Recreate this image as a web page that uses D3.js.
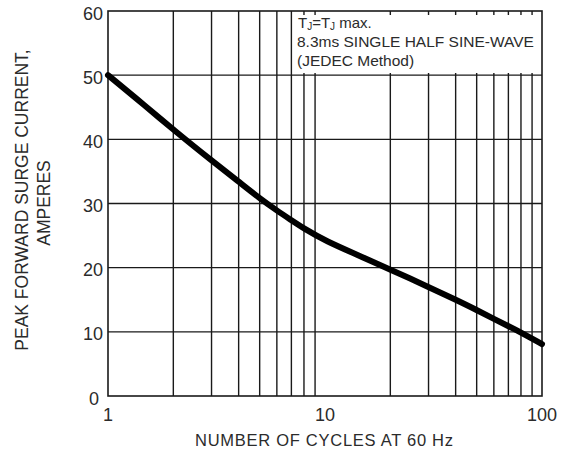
<!DOCTYPE html>
<html>
<head>
<meta charset="utf-8">
<script src="https://cdn.jsdelivr.net/npm/d3@7"></script>
<style>
  body { margin: 0; background: #fff; }
  svg text { font-family: "Liberation Sans", Arial, Helvetica, sans-serif; fill: #2b2b2b; }
</style>
</head>
<body>
<div id="chart"></div>
<script>
// curve
var cycles  = [1, 1.5, 2, 3, 4, 5, 6, 7, 8, 10, 15, 20, 30, 40, 50, 60, 70, 80, 100];
var current = [50, 45.1, 41.5, 36.7, 33.4, 30.8, 28.9, 27.4, 26.1, 24.2, 21.6, 19.7, 17.0, 15.0, 13.4, 12.0, 10.9, 9.9, 8.1];

var xGrid = [2, 3, 4, 5, 6, 7, 8, 9, 20, 30, 40, 50, 60, 70, 80, 90];
var yGrid = [10, 20, 30, 40, 50];
var xTicks = [1, 10, 100];
var yTicks = [0, 10, 20, 30, 40, 50, 60];

var legendLines = ["8.3ms SINGLE HALF SINE-WAVE", "(JEDEC Method)"];

var W = 566, H = 455;
// plot box edges (don't call these top/left, window.top is read only)
var pLeft = 108, pRight = 542, pTop = 11, pBottom = 396;

var svg = d3.select("#chart").append("svg")
  .attr("width", W)
  .attr("height", H);

var x = d3.scaleLog().domain([1, 100]).range([pLeft, pRight]);
var y = d3.scaleLinear().domain([0, 60]).range([pBottom, pTop]);

// grid lines
svg.append("g")
  .selectAll("line")
  .data(xGrid)
  .enter().append("line")
    .attr("x1", function(d) { return x(d); })
    .attr("x2", function(d) { return x(d); })
    .attr("y1", pTop)
    .attr("y2", pBottom)
    .attr("stroke", "#1a1a1a")
    .attr("stroke-width", 1.4);

svg.append("g")
  .selectAll("line")
  .data(yGrid)
  .enter().append("line")
    .attr("x1", pLeft)
    .attr("x2", pRight)
    .attr("y1", function(d) { return y(d); })
    .attr("y2", function(d) { return y(d); })
    .attr("stroke", "#1a1a1a")
    .attr("stroke-width", 1.4);

// white box behind the conditions note
svg.append("rect")
  .attr("x", 295)
  .attr("y", 15)
  .attr("width", 244)
  .attr("height", 58)
  .attr("fill", "#fff");

// frame
svg.append("rect")
  .attr("x", pLeft)
  .attr("y", pTop)
  .attr("width", pRight - pLeft)
  .attr("height", pBottom - pTop)
  .attr("fill", "none")
  .attr("stroke", "#1a1a1a")
  .attr("stroke-width", 1.6);

// surge curve
var pts = cycles.map(function(c, i) { return [c, current[i]]; });
var line = d3.line()
  .x(function(d) { return x(d[0]); })
  .y(function(d) { return y(d[1]); })
  .curve(d3.curveBasis);

svg.append("path")
  .datum(pts)
  .attr("d", line)
  .attr("fill", "none")
  .attr("stroke", "#000")
  .attr("stroke-width", 6)
  .attr("stroke-linecap", "round");

// y tick labels
svg.append("g")
  .selectAll("text")
  .data(yTicks)
  .enter().append("text")
    .attr("x", function(d) { return d == 0 ? 99 : 103; })
    .attr("y", function(d) { return y(d) + 8.5; })
    .attr("text-anchor", "end")
    .style("font-size", "18px")
    .text(function(d) { return d; });

// x tick labels
svg.append("g")
  .selectAll("text")
  .data(xTicks)
  .enter().append("text")
    .attr("x", function(d) { return x(d); })
    .attr("y", 421)
    .attr("text-anchor", "middle")
    .style("font-size", "18px")
    .text(function(d) { return d; });

// axis titles
svg.append("text")
  .attr("x", 195)
  .attr("y", 446)
  .attr("textLength", 258)
  .attr("lengthAdjust", "spacing")
  .style("font-size", "16.5px")
  .text("NUMBER OF CYCLES AT 60 Hz");

svg.append("text")
  .attr("transform", "translate(28,200) rotate(-90)")
  .attr("text-anchor", "middle")
  .style("font-size", "17.5px")
  .text("PEAK FORWARD SURGE CURRENT,");

svg.append("text")
  .attr("transform", "translate(50,203) rotate(-90)")
  .attr("text-anchor", "middle")
  .style("font-size", "17.5px")
  .text("AMPERES");

// conditions note
var note = svg.append("text")
  .attr("x", 298)
  .attr("y", 28)
  .style("font-size", "15px");
note.append("tspan").text("T");
note.append("tspan").attr("dy", 2).style("font-size", "10px").text("J");
note.append("tspan").attr("dy", -2).text("=T");
note.append("tspan").attr("dy", 2).style("font-size", "10px").text("J");
note.append("tspan").attr("dy", -2).text(" max.");

svg.append("g")
  .selectAll("text")
  .data(legendLines)
  .enter().append("text")
    .attr("x", 297)
    .attr("y", function(d, i) { return 47 + i * 18.5; })
    .style("font-size", "15.5px")
    .text(function(d) { return d; });
</script>
</body>
</html>
